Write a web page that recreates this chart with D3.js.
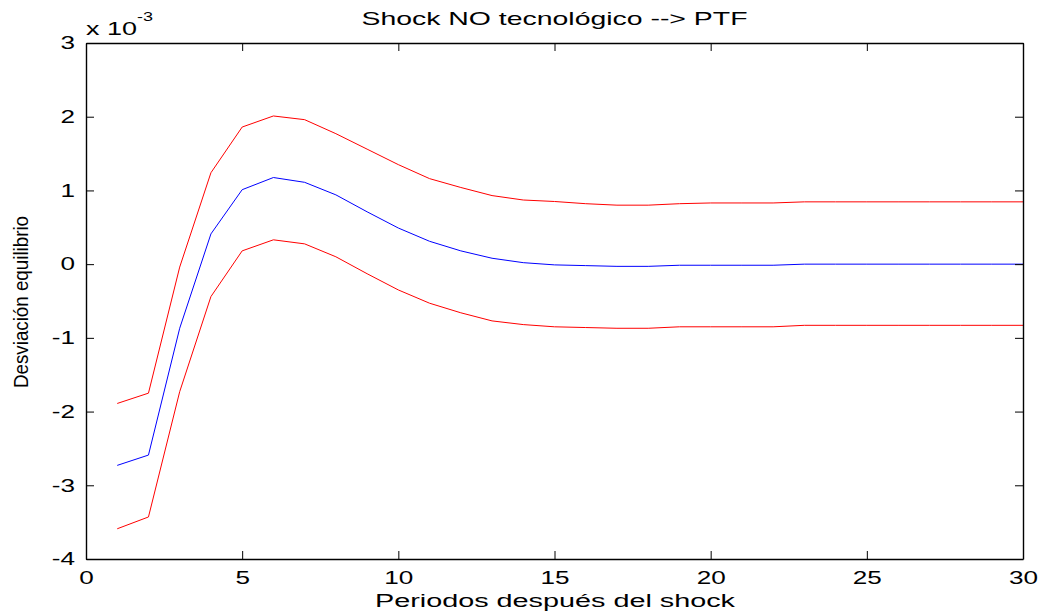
<!DOCTYPE html>
<head>
  <meta charset="utf-8">
  <script src="https://d3js.org/d3.v7.min.js"></script>
  <style>
    body { margin:0; background:#fff; }
    text { font-family: "Liberation Sans", Arial, sans-serif; fill:#000; }
  </style>
</head>
<body>
<script>

/* Data (values x 10^-3) */
/* ===================== */

var periods = d3.range(1, 31);

var upperBand = [-1.89, -1.75, -0.04, 1.24, 1.86, 2.01, 1.96, 1.77, 1.56, 1.35,
                 1.16, 1.04, 0.93, 0.87, 0.85, 0.82, 0.80, 0.80, 0.82, 0.83,
                 0.83, 0.83, 0.845, 0.845, 0.845, 0.845, 0.845, 0.845, 0.845, 0.845];

var response = [-2.73, -2.59, -0.87, 0.41, 1.01, 1.175, 1.11, 0.94, 0.71, 0.49,
                0.31, 0.18, 0.08, 0.02, -0.01, -0.02, -0.03, -0.03, -0.015, -0.015,
                -0.015, -0.015, 0.0, 0.0, 0.0, 0.0, 0.0, 0.0, 0.0, 0.0];

var lowerBand = [-3.59, -3.43, -1.73, -0.44, 0.18, 0.33, 0.275, 0.10, -0.13, -0.35,
                 -0.53, -0.66, -0.77, -0.82, -0.85, -0.86, -0.87, -0.87, -0.85, -0.85,
                 -0.85, -0.85, -0.83, -0.83, -0.83, -0.83, -0.83, -0.83, -0.83, -0.83];

var xTicks = [0, 5, 10, 15, 20, 25, 30];
var yTicks = [-4, -3, -2, -1, 0, 1, 2, 3];


/* Set up */
/* ====== */

var width = 1042,
    height = 614,
    margin = { top: 43, right: 19, bottom: 55, left: 86 },
    innerW = width - margin.left - margin.right,
    innerH = height - margin.top - margin.bottom,
    stretch = 1.45;   // the original figure's text is wide

var svg = d3.select('body')
  .append('svg')
    .attr('width', width)
    .attr('height', height);

var g = svg.append('g')
    .attr('transform', 'translate(' + margin.left + ',' + margin.top + ')');

var x = d3.scaleLinear().domain([0, 30]).range([0, innerW]);
var y = d3.scaleLinear().domain([-4, 3]).range([innerH, 0]);

var line = d3.line()
    .x(function(d, i) { return x(periods[i]); })
    .y(function(d) { return y(d); });


// draw the curves

[[upperBand, 'red'], [lowerBand, 'red'], [response, 'blue']].forEach(function(s) {
  g.append('path')
    .datum(s[0])
    .attr('d', line)
    .attr('fill', 'none')
    .attr('stroke', s[1])
    .attr('stroke-width', 1);
});


// axes (ticks inward on all four sides, MATLAB box)

var tickLen = 8;
var fmt = function(d) { return String(d); };

g.append('g')
    .attr('transform', 'translate(0,' + innerH + ')')
    .call(d3.axisBottom(x).tickValues(xTicks).tickFormat(fmt).tickSizeInner(-tickLen).tickSizeOuter(0).tickPadding(12))
    .call(styleAxis);

g.append('g')
    .call(d3.axisTop(x).tickValues(xTicks).tickSizeInner(-tickLen).tickSizeOuter(0).tickFormat(''))
    .call(styleAxis);

g.append('g')
    .call(d3.axisLeft(y).tickValues(yTicks).tickFormat(fmt).tickSizeInner(-tickLen).tickSizeOuter(0).tickPadding(11))
    .call(styleAxis);

g.append('g')
    .attr('transform', 'translate(' + innerW + ',0)')
    .call(d3.axisRight(y).tickValues(yTicks).tickSizeInner(-tickLen).tickSizeOuter(0).tickFormat(''))
    .call(styleAxis);

function styleAxis(sel) {
  sel.select('.domain').attr('stroke', '#000').attr('stroke-width', 1.4);
  sel.selectAll('.tick line').attr('stroke', '#000');
  sel.selectAll('.tick text')
    .style('font-family', '"Liberation Sans", Arial, sans-serif')
    .style('font-size', '18px')
    .attr('fill', '#000')
    .each(function() {
      var w = this.getComputedTextLength();
      if (w > 0) {
        d3.select(this)
          .attr('textLength', w * stretch)
          .attr('lengthAdjust', 'spacingAndGlyphs');
      }
    });
}


// texts

svg.append('text')
    .attr('x', margin.left + innerW / 2)
    .attr('y', 25)
    .attr('text-anchor', 'middle')
    .attr('textLength', 386)
    .attr('lengthAdjust', 'spacingAndGlyphs')
    .style('font-size', '19px')
    .text('Shock NO tecnológico --> PTF');

svg.append('text')
    .attr('x', 555)
    .attr('y', 607)
    .attr('text-anchor', 'middle')
    .attr('textLength', 360)
    .attr('lengthAdjust', 'spacingAndGlyphs')
    .style('font-size', '18px')
    .text('Periodos después del shock');

svg.append('text')
    .attr('transform', 'translate(28,302) rotate(-90)')
    .attr('text-anchor', 'middle')
    .attr('textLength', 172)
    .attr('lengthAdjust', 'spacingAndGlyphs')
    .style('font-size', '20px')
    .text('Desviación equilibrio');

var expo = svg.append('text')
    .attr('transform', 'translate(86,35) scale(1.5,1)')
    .style('font-size', '18px');
expo.append('tspan').text('x 10');
expo.append('tspan').attr('dy', -14).style('font-size', '12px').text('-3');

</script>
</body>
